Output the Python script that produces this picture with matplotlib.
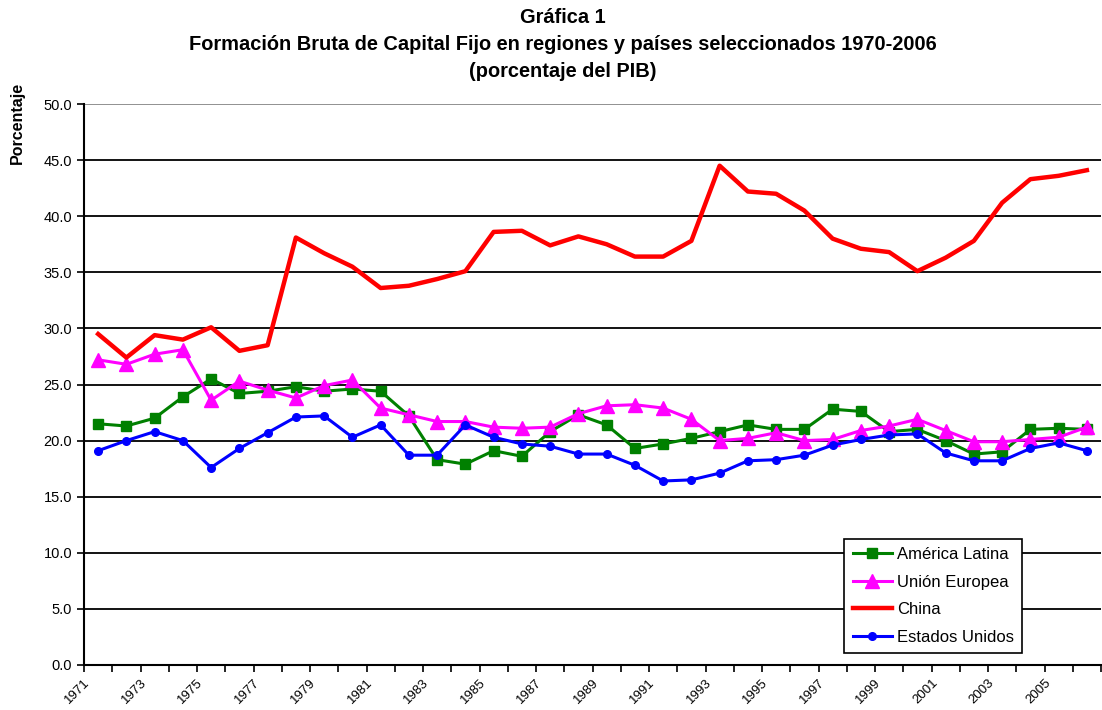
import matplotlib
matplotlib.use("Agg")
import matplotlib.pyplot as plt
import numpy as np

plt.rcParams['font.family'] = ['Liberation Sans', 'DejaVu Sans']

years = list(range(1971, 2007))
america_latina = [21.5, 21.3, 22.0, 23.9, 25.5, 24.2, 24.4, 24.8, 24.4, 24.6, 24.4, 22.2,
                  18.3, 17.9, 19.1, 18.6, 20.8, 22.3, 21.4, 19.3, 19.7, 20.2, 20.8, 21.4,
                  21.0, 21.0, 22.8, 22.6, 20.8, 21.0, 20.0, 18.8, 19.0, 21.0, 21.1, 21.0]
union_europea = [27.2, 26.8, 27.7, 28.1, 23.6, 25.3, 24.5, 23.8, 24.9, 25.4, 22.9, 22.3,
                 21.7, 21.7, 21.2, 21.1, 21.2, 22.4, 23.1, 23.2, 22.9, 21.9, 20.0, 20.2,
                 20.7, 20.0, 20.1, 20.9, 21.3, 21.9, 20.9, 19.9, 19.9, 20.1, 20.3, 21.2]
china = [29.5, 27.4, 29.4, 29.0, 30.1, 28.0, 28.5, 38.1, 36.7, 35.5, 33.6, 33.8,
         34.4, 35.1, 38.6, 38.7, 37.4, 38.2, 37.5, 36.4, 36.4, 37.8, 44.5, 42.2,
         42.0, 40.5, 38.0, 37.1, 36.8, 35.1, 36.3, 37.8, 41.2, 43.3, 43.6, 44.1]
estados_unidos = [19.1, 20.0, 20.8, 20.0, 17.6, 19.3, 20.7, 22.1, 22.2, 20.3, 21.4, 18.7,
                  18.7, 21.4, 20.3, 19.7, 19.5, 18.8, 18.8, 17.8, 16.4, 16.5, 17.1, 18.2,
                  18.3, 18.7, 19.6, 20.1, 20.5, 20.6, 18.9, 18.2, 18.2, 19.3, 19.8, 19.1]

title = "Gráfica 1\nFormación Bruta de Capital Fijo en regiones y países seleccionados 1970-2006\n(porcentaje del PIB)"
ylabel = "Porcentaje"

fig = plt.figure(figsize=(11.02, 7.10), dpi=100)
ax = fig.add_axes([84/1102, 1-665/710, 1017/1102, (665-104)/710])

x = np.arange(len(years))
ax.plot(x, america_latina, color='#008000', lw=2.2, marker='s', ms=6.5, label='América Latina', zorder=3)
ax.plot(x, union_europea, color='#FF00FF', lw=2.2, marker='^', ms=10, label='Unión Europea', zorder=3)
ax.plot(x, china, color='#FF0000', lw=3.2, label='China', zorder=4)
ax.plot(x, estados_unidos, color='#0000FF', lw=2.2, marker='o', ms=5.5, label='Estados Unidos', zorder=3)

ax.set_xlim(-0.5, len(years) - 0.5)
ax.set_ylim(0, 50)
yt = np.arange(0, 50.1, 5)
ax.set_yticks(yt)
ax.set_yticklabels([f"{v:.1f}" for v in yt], fontsize=10.5)
for v in yt[1:-1]:
    ax.axhline(v, color='black', lw=1.3, zorder=1)
ax.axhline(50, color='#888888', lw=1.3, zorder=1)

bounds = np.arange(-0.5, len(years), 1.0)
ax.set_xticks(bounds)
labels = [str(years[i]) if (i % 2 == 0 and i < len(years) - 1) else '' for i in range(len(bounds))]
ax.set_xticklabels(labels, fontsize=9.5, rotation=45, ha='right', va='top', rotation_mode='anchor')
ax.tick_params(axis='both', direction='out', length=5, width=1.2, color='black')

for s in ['top', 'right']:
    ax.spines[s].set_visible(False)
for s in ['left', 'bottom']:
    ax.spines[s].set_linewidth(1.5)

fig.text(563/1102, 1-8/710, title, ha='center', va='top', fontsize=14.4, fontweight='bold', linespacing=1.52)
fig.text(17/1102, 1-123/710, ylabel, rotation=90, ha='center', va='center', fontsize=11.5, fontweight='bold')

leg = ax.legend(loc='lower right', bbox_to_anchor=(1022/1102, 1-653/710), bbox_transform=fig.transFigure,
                fontsize=12, frameon=True, fancybox=False, edgecolor='black', framealpha=1,
                handlelength=2.35, handletextpad=0.3, labelspacing=0.75, borderpad=0.5,
                borderaxespad=0)
leg.get_frame().set_linewidth(1.2)

fig.savefig('out.png', dpi=100, facecolor='white')
